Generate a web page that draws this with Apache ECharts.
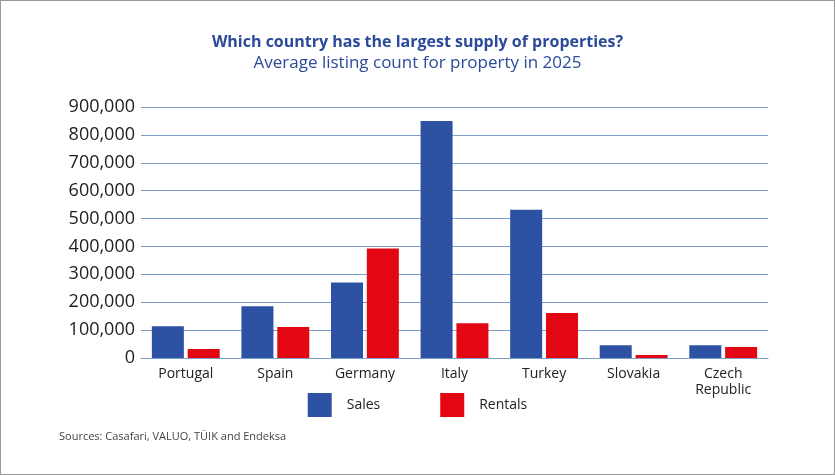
<!DOCTYPE html>
<html><head><meta charset="utf-8">
<script src="https://cdn.jsdelivr.net/npm/echarts@6/dist/echarts.min.js"></script>
<style>html,body{margin:0;padding:0;background:#fff}#c{width:833px;height:473px;border:1px solid #999}</style>
</head><body><div id="c"></div>
<script>
const categories=['Portugal','Spain','Germany','Italy','Turkey','Slovakia','Czech\nRepublic'];
const sales=[114000,186000,271000,850000,532000,46000,46000];
const rentals=[32000,111000,393000,125000,161000,11000,39000];
const chart=echarts.init(document.getElementById('c'));
const F='"Open Sans", sans-serif';
chart.setOption({
  animation:false,
  title:{text:'Which country has the largest supply of properties?',subtext:'Average listing count for property in 2025',left:'center',top:28,itemGap:5,
    textStyle:{fontFamily:F,fontSize:16,fontWeight:'bold',color:'#2b4a9a'},
    subtextStyle:{fontFamily:F,fontSize:17,color:'#2b4a9a'}},
  legend:{bottom:52,left:'center',itemWidth:24,itemHeight:24,itemGap:60,icon:'rect',
    textStyle:{fontFamily:F,fontSize:14,color:'#222',padding:[0,0,0,10]}},
  graphic:[{type:'text',left:58,top:430,style:{text:'Sources: Casafari, VALUO, TÜIK and Endeksa',font:'11px '+F,fill:'#444'}}],
  grid:{left:140,right:66,top:106,bottom:116,containLabel:false},
  xAxis:{type:'category',data:categories,axisTick:{show:false},axisLine:{lineStyle:{color:'#7a9cc8'}},
    axisLabel:{fontFamily:F,fontSize:14,color:'#222',lineHeight:16}},
  yAxis:{type:'value',min:0,max:900000,interval:100000,
    axisLabel:{fontFamily:F,fontSize:18,color:'#222',margin:6,formatter:v=>v.toLocaleString('en-US')},
    splitLine:{lineStyle:{color:'#7a9cc8'}}},
  series:[
    {name:'Sales',type:'bar',data:sales,barWidth:32,barGap:'12%',itemStyle:{color:'#2e52a3'}},
    {name:'Rentals',type:'bar',data:rentals,barWidth:32,itemStyle:{color:'#e30613'}}
  ]
});
</script></body></html>
